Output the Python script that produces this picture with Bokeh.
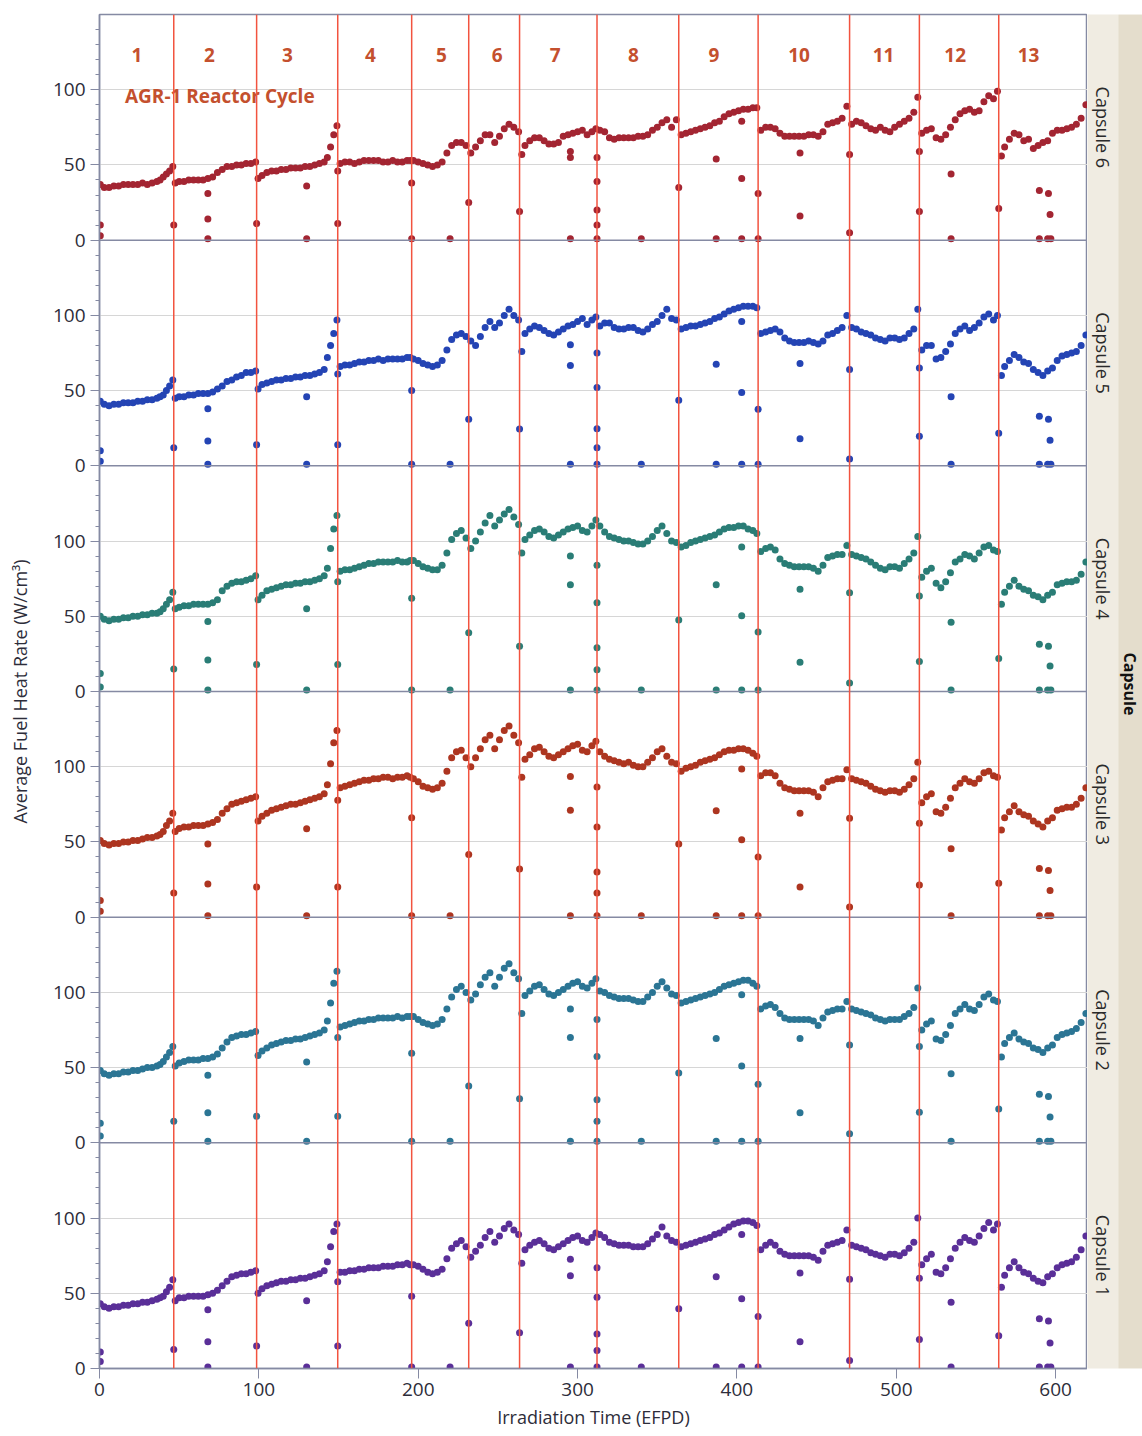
import math
from bokeh.plotting import figure
from bokeh.models import Range1d, FixedTicker, Span, ColumnDataSource, CustomJSTickFormatter
from bokeh.layouts import row
from bokeh.embed import file_html
from bokeh.resources import INLINE
from bokeh.core.properties import value

# ---------------- data ----------------
CYCLE_BOUNDS = [46.6, 98.6, 149.5, 195.9, 231.7, 263.6, 312.2, 363.5, 413.3, 470.7, 514.5, 564.3]
CYCLE_NAMES = [str(i) for i in range(1, 14)]
CYCLE_LABEL_X = [23.5, 69, 118, 170, 214.5, 249.5, 286, 335, 385.5, 439, 492, 537, 583]
X_TICKS = [0, 100, 200, 300, 400, 500, 600]
CAPSULES = ["Capsule 1", "Capsule 2", "Capsule 3", "Capsule 4", "Capsule 5", "Capsule 6"]

DAYS = [
    [0.5, 3, 6, 9, 12, 15, 18, 21, 24, 27, 30, 33, 36, 38, 40, 42, 44, 46],
    [47.5, 50, 53, 56, 59, 62, 65, 68, 71, 74, 77, 80, 83, 86, 89, 92, 95, 98],
    [99.5, 102, 105, 108, 111, 114, 117, 120, 123, 126, 129, 132, 135, 138, 141, 143, 145, 147, 149],
    [151, 154, 157, 160, 163, 166, 169, 172, 175, 178, 181, 184, 187, 190, 193, 195],
    [197, 200, 203, 206, 209, 212, 215, 218, 221, 224, 227, 230],
    [233, 236, 239, 242, 245, 248, 251, 254, 257, 260, 263],
    [265, 267, 270, 273, 276, 279, 282, 285, 288, 291, 294, 297, 300, 303, 306, 309, 311.5],
    [314, 317, 320, 323, 326, 329, 332, 335, 338, 341, 344, 347, 350, 353, 356, 359, 362],
    [365, 368, 371, 374, 377, 380, 383, 386, 389, 392, 395, 398, 401, 404, 407, 410, 412.5],
    [415, 418, 421, 424, 427, 430, 433, 436, 439, 442, 445, 448, 451, 454, 457, 460, 463, 466, 469],
    [472, 475, 478, 481, 484, 487, 490, 493, 496, 499, 502, 505, 508, 511, 513.5],
    [516, 519, 522, 525, 528, 531, 534, 537, 540, 543, 546, 549, 552, 555, 558, 561, 563.5],
    [566, 568, 571, 574, 577, 580, 583, 586, 589, 592, 595, 598, 601, 604, 607, 610, 613, 616, 619],
]

CAP6 = [
    [37, 35, 35, 36, 36, 37, 37, 37, 37, 38, 37, 38, 39, 40, 42, 44, 46, 49],
    [38, 39, 39, 40, 40, 40, 40, 41, 42, 45, 47, 49, 49, 50, 50, 51, 51, 52],
    [41, 43, 45, 46, 46, 47, 47, 48, 48, 48, 49, 49, 50, 51, 52, 55, 62, 70, 76],
    [51, 52, 52, 51, 52, 53, 53, 53, 53, 52, 52, 53, 52, 52, 53, 53],
    [53, 52, 51, 50, 49, 50, 52, 58, 63, 65, 65, 63],
    [58, 62, 66, 70, 70, 65, 69, 74, 77, 75, 72],
    [57, 63, 66, 68, 68, 66, 64, 64, 65, 69, 70, 71, 72, 73, 70, 72, 74],
    [73, 72, 68, 67, 68, 68, 68, 68, 69, 69, 70, 73, 75, 78, 80, 75, 80],
    [70, 71, 72, 73, 74, 75, 76, 78, 79, 82, 84, 85, 86, 87, 87, 88, 88],
    [73, 75, 75, 74, 71, 69, 69, 69, 69, 69, 70, 70, 69, 72, 77, 78, 79, 81, 89],
    [77, 79, 78, 76, 74, 73, 75, 73, 72, 75, 77, 79, 81, 85, 95],
    [71, 73, 74, 68, 67, 70, 75, 80, 84, 86, 87, 85, 86, 92, 96, 94, 99],
    [56, 62, 67, 71, 70, 66, 67, 61, 63, 65, 66, 71, 73, 73, 74, 75, 77, 81, 90],
]
CAP5 = [
    [43, 41, 40, 41, 41, 42, 42, 42, 43, 43, 44, 44, 45, 46, 47, 50, 53, 57],
    [45, 46, 46, 47, 47, 48, 48, 48, 49, 51, 53, 56, 57, 59, 60, 62, 62, 63],
    [51, 54, 55, 56, 57, 57, 58, 58, 59, 59, 60, 60, 61, 62, 64, 72, 80, 88, 97],
    [66, 67, 67, 68, 69, 69, 70, 70, 71, 70, 71, 71, 71, 71, 72, 72],
    [71, 70, 68, 67, 66, 67, 70, 77, 84, 87, 88, 86],
    [83, 80, 86, 92, 96, 92, 95, 100, 104, 100, 97],
    [76, 88, 91, 93, 92, 90, 88, 87, 89, 91, 93, 94, 96, 98, 94, 97, 99],
    [93, 95, 95, 92, 91, 91, 92, 92, 90, 89, 91, 94, 96, 100, 104, 98, 97],
    [91, 92, 93, 93, 94, 95, 96, 98, 99, 101, 103, 104, 105, 106, 106, 106, 105],
    [88, 89, 90, 91, 89, 85, 83, 82, 82, 82, 83, 82, 81, 83, 87, 88, 90, 92, 100],
    [92, 91, 89, 88, 87, 85, 84, 83, 85, 85, 84, 85, 88, 91, 104],
    [77, 80, 80, 71, 72, 76, 81, 88, 91, 93, 90, 92, 95, 99, 101, 97, 100],
    [60, 66, 70, 74, 72, 69, 68, 64, 62, 60, 63, 65, 70, 73, 74, 75, 76, 80, 87],
]
CAP4 = [
    [50, 48, 47, 48, 48, 49, 49, 50, 50, 51, 51, 52, 52, 53, 55, 58, 61, 66],
    [55, 56, 57, 57, 58, 58, 58, 58, 59, 61, 67, 70, 72, 73, 73, 74, 75, 77],
    [61, 64, 67, 68, 69, 70, 71, 71, 72, 72, 73, 73, 74, 75, 77, 82, 95, 108, 117],
    [80, 81, 81, 82, 83, 84, 85, 85, 86, 86, 86, 86, 87, 86, 86, 87],
    [87, 85, 83, 82, 81, 81, 84, 92, 101, 105, 107, 102],
    [95, 100, 106, 112, 117, 110, 114, 118, 121, 116, 111],
    [92, 101, 104, 107, 108, 106, 103, 102, 104, 106, 108, 109, 110, 107, 106, 110, 114],
    [110, 106, 103, 102, 101, 100, 100, 99, 98, 98, 100, 103, 107, 110, 105, 100, 99],
    [96, 97, 99, 100, 101, 102, 103, 104, 106, 108, 109, 109, 110, 110, 108, 107, 105],
    [93, 95, 96, 94, 88, 85, 84, 83, 83, 83, 83, 82, 80, 84, 89, 90, 91, 91, 97],
    [91, 90, 89, 88, 86, 84, 82, 81, 83, 83, 82, 85, 88, 92, 103],
    [76, 80, 82, 72, 69, 73, 79, 86, 88, 91, 90, 88, 92, 96, 97, 94, 93],
    [58, 66, 70, 74, 70, 68, 67, 64, 63, 61, 64, 66, 71, 72, 73, 73, 74, 78, 86],
]
CAP3 = [
    [51, 49, 48, 49, 49, 50, 50, 51, 51, 52, 53, 53, 54, 55, 57, 61, 64, 69],
    [57, 59, 60, 60, 61, 61, 61, 62, 63, 65, 69, 72, 75, 76, 77, 78, 79, 80],
    [64, 67, 69, 71, 72, 73, 74, 75, 75, 76, 77, 78, 79, 80, 82, 88, 102, 116, 124],
    [86, 87, 88, 89, 90, 91, 91, 92, 92, 93, 93, 92, 93, 93, 94, 93],
    [92, 90, 87, 86, 85, 86, 89, 97, 106, 110, 111, 106],
    [100, 106, 112, 118, 121, 112, 118, 124, 127, 121, 116],
    [93, 105, 108, 112, 113, 110, 107, 106, 108, 110, 112, 114, 115, 111, 110, 114, 117],
    [110, 107, 105, 104, 103, 102, 103, 101, 100, 100, 103, 106, 110, 112, 107, 103, 102],
    [97, 99, 100, 101, 103, 104, 105, 106, 108, 110, 111, 111, 112, 112, 111, 109, 107],
    [94, 96, 96, 94, 89, 86, 85, 84, 84, 84, 84, 83, 80, 86, 90, 91, 92, 92, 98],
    [92, 91, 90, 89, 87, 85, 84, 83, 84, 84, 83, 85, 88, 92, 103],
    [76, 80, 82, 70, 69, 73, 79, 86, 89, 92, 90, 89, 92, 96, 97, 94, 93],
    [58, 66, 70, 74, 70, 68, 67, 64, 62, 60, 64, 66, 71, 72, 73, 73, 75, 79, 86],
]
CAP2 = [
    [48, 46, 45, 46, 46, 47, 47, 48, 48, 49, 50, 50, 51, 52, 54, 57, 60, 64],
    [51, 53, 54, 55, 55, 55, 56, 56, 57, 59, 63, 67, 70, 71, 72, 72, 73, 74],
    [58, 61, 63, 65, 66, 67, 68, 68, 69, 69, 70, 71, 72, 73, 75, 81, 93, 106, 114],
    [77, 78, 79, 80, 81, 81, 82, 82, 83, 83, 83, 83, 84, 83, 84, 84],
    [84, 82, 80, 79, 78, 79, 82, 89, 97, 102, 104, 100],
    [95, 99, 105, 110, 113, 104, 110, 116, 119, 113, 109],
    [86, 98, 101, 104, 105, 102, 99, 98, 100, 102, 104, 106, 107, 104, 103, 106, 109],
    [101, 100, 98, 97, 96, 96, 96, 95, 94, 94, 97, 100, 104, 107, 103, 99, 98],
    [93, 94, 95, 96, 97, 98, 99, 100, 102, 104, 105, 106, 107, 108, 108, 106, 104],
    [89, 91, 92, 90, 86, 83, 82, 82, 82, 82, 82, 81, 78, 83, 87, 88, 89, 89, 94],
    [89, 88, 87, 86, 85, 83, 82, 81, 82, 82, 82, 84, 86, 90, 103],
    [75, 79, 81, 69, 68, 72, 78, 86, 89, 92, 89, 88, 92, 97, 99, 95, 94],
    [57, 66, 70, 73, 69, 67, 66, 63, 62, 60, 63, 65, 70, 72, 73, 74, 76, 80, 86],
]
CAP1 = [
    [43, 41, 40, 41, 41, 42, 42, 43, 43, 44, 44, 45, 46, 47, 48, 51, 54, 59],
    [45, 47, 47, 48, 48, 48, 48, 49, 50, 52, 55, 58, 61, 62, 63, 63, 64, 65],
    [50, 53, 55, 56, 57, 58, 58, 59, 59, 60, 60, 61, 62, 63, 65, 71, 81, 91, 96],
    [64, 64, 65, 65, 66, 66, 67, 67, 67, 68, 68, 68, 69, 69, 70, 69],
    [69, 68, 66, 64, 63, 64, 66, 73, 80, 83, 85, 81],
    [74, 78, 82, 87, 91, 84, 88, 93, 96, 92, 89],
    [70, 79, 82, 84, 85, 83, 80, 79, 81, 83, 85, 87, 88, 85, 84, 87, 90],
    [89, 87, 84, 83, 82, 82, 82, 81, 81, 81, 83, 86, 89, 94, 88, 85, 84],
    [81, 82, 83, 84, 85, 86, 87, 89, 90, 92, 94, 96, 97, 98, 98, 97, 95],
    [79, 82, 84, 82, 78, 76, 75, 75, 75, 75, 75, 74, 72, 78, 82, 83, 84, 85, 92],
    [82, 81, 80, 79, 77, 76, 75, 74, 76, 76, 75, 77, 80, 84, 100],
    [69, 73, 76, 64, 63, 67, 73, 80, 84, 87, 85, 84, 88, 93, 97, 92, 96],
    [54, 62, 67, 71, 67, 64, 63, 60, 58, 57, 61, 63, 67, 69, 70, 71, 74, 79, 88],
]

# off-trend points (start-up / shutdown days)
OUT_DAYS = [0.5, 0.5, 46.6, 68, 68, 68, 98.6, 130, 130, 149.5, 149.5, 195.9, 195.9, 220,
            231.7, 263.6, 295.5, 295.5, 295.5, 312.2, 312.2, 312.2, 312.2, 312.2, 340, 363.5,
            387, 387, 403, 403, 403, 413.3, 413.3, 439.6, 439.6, 470.7, 470.7, 514.5, 514.5,
            534.4, 534.4, 564.3, 589.8, 589.8, 595.5, 596.5, 595, 597]
OUT6 = [10, 3, 10, 31, 14, 1, 11, 36, 1, 11, 46, 38, 1, 1, 25, 19, 59, 55, 1, 55, 39, 20, 10, 1,
        1, 35, 54, 1, 41, 1, 79, 31, 1, 58, 16, 57, 5, 59, 19, 44, 1, 21, 33, 1, 31, 17, 1, 1]
OUT5 = [10, 3, 12, 38, 16.5, 1, 14, 46, 1, 14, 61, 50, 1, 1, 31, 24.5, 80.5, 66.7, 1, 75, 52, 24.6,
        12, 1, 1, 43.6, 67.5, 1, 48.8, 1, 96, 37.6, 1, 68, 18, 64, 4.5, 65, 19.7, 46, 1, 21.7, 33,
        1, 31, 17, 1, 1]
OUT4 = [12, 3, 15, 46.5, 21, 1, 18, 55, 1, 18, 73, 62, 1, 1, 39, 30, 90, 71, 1, 84, 59, 29, 14.5,
        1, 1, 47.6, 71, 1, 50.4, 1, 96, 39.5, 1, 68, 19.4, 65.7, 5.7, 63.5, 20, 46, 1, 22, 31.4, 1,
        30, 17, 1, 1]
OUT3 = [11, 4, 16, 48.7, 22, 1, 20, 58.7, 1, 20, 77.7, 66, 1, 1, 41.7, 32, 93.5, 71, 1, 86.5, 60,
        30, 16, 1, 1, 48.7, 70.7, 1, 51.5, 1, 98.5, 40, 1, 69, 20, 65.7, 6.8, 62.4, 21.4, 45.4, 1,
        22.5, 32.3, 1, 31, 17.7, 1, 1]
OUT2 = [13, 4.6, 14.4, 45, 20, 1, 17.7, 53.7, 1, 17.7, 70, 59.6, 1, 1, 37.8, 29.3, 89, 70, 1, 82,
        57.4, 28.6, 14.4, 1, 1, 46.5, 69.4, 1, 51, 1, 98.5, 39, 1, 69.4, 20, 65, 6, 64, 20.3, 46, 1,
        22.5, 32.3, 1, 30.8, 17.2, 1, 1]
OUT1 = [11, 4.6, 12.7, 39, 17.8, 1, 15, 45, 1, 15, 57.7, 48, 1, 1, 30, 23.7, 72.6, 61.6, 1, 67,
        47.4, 23, 12, 1, 1, 39.7, 61, 1, 46.3, 1, 89, 34.6, 1, 63.4, 17.8, 59.4, 5.3, 60, 19.3, 44,
        1, 21.7, 33, 1, 31.6, 17, 1, 1]

SERIES = [CAP1, CAP2, CAP3, CAP4, CAP5, CAP6]
OUTS = [OUT1, OUT2, OUT3, OUT4, OUT5, OUT6]

# ---------------- style ----------------
COLORS = ["#5a2f98", "#2b7594", "#ad3520", "#2a7d76", "#2444b4", "#a32532"]
RED = "#f2533f"
CYC_TXT = "#c4502e"
FRAME = "#858aa3"
GRID = "#d6d6d6"
TXT = "#2d2d3a"
FONT = "Open Sans"
PANEL = 150  # y-units per panel
NP = 6

days_flat = [d for cyc in DAYS for d in cyc]

p = figure(output_backend="svg", toolbar_location=None,
           frame_width=988, frame_height=1354,
           x_range=Range1d(0, 620), y_range=Range1d(0, PANEL * NP),
           min_border_left=99, min_border_right=0, min_border_top=14, min_border_bottom=68,
           background_fill_color="white", border_fill_color="white",
           outline_line_color=FRAME, outline_line_width=1.5)

# one y-range per capsule panel: each capsule's own values, 0..150
p.extra_y_ranges = {f"c{k}": Range1d(start=-PANEL * (k - 1), end=PANEL * NP - PANEL * (k - 1))
                    for k in range(1, NP + 1)}

p.xgrid.visible = False
p.ygrid.ticker = FixedTicker(ticks=[PANEL * i + m for i in range(NP) for m in (50, 100)])
p.ygrid.grid_line_color = GRID
p.ygrid.grid_line_width = 1

# y axis: 0/50/100 repeated for each panel
p.yaxis.ticker = FixedTicker(
    ticks=[PANEL * i + m for i in range(NP) for m in (0, 50, 100)],
    minor_ticks=[PANEL * i + m for i in range(NP)
                 for m in (10, 20, 30, 40, 60, 70, 80, 90, 110, 120, 130, 140)])
p.yaxis.formatter = CustomJSTickFormatter(code="return String(Math.round(tick) % 150);")
p.yaxis.axis_label = "Average Fuel Heat Rate (W/cm³)"
p.yaxis.major_tick_out = 9
p.yaxis.major_tick_in = 0
p.yaxis.minor_tick_out = 4
p.yaxis.minor_tick_in = 0
p.yaxis.major_label_standoff = 5
p.yaxis.axis_label_standoff = 18

p.xaxis.ticker = FixedTicker(ticks=X_TICKS, minor_ticks=[])
p.xaxis.axis_label = "Irradiation Time (EFPD)"
p.xaxis.major_tick_out = 10
p.xaxis.major_tick_in = 0
p.xaxis.minor_tick_out = 0
p.xaxis.minor_tick_in = 0
p.xaxis.major_label_standoff = 4
p.xaxis.axis_label_standoff = 6

for ax in (p.xaxis, p.yaxis):
    ax.axis_line_color = FRAME
    ax.axis_line_width = 1.5
    ax.major_tick_line_color = FRAME
    ax.minor_tick_line_color = FRAME
    ax.major_label_text_font = FONT
    ax.major_label_text_font_size = "19px"
    ax.major_label_text_color = TXT
    ax.axis_label_text_font = FONT
    ax.axis_label_text_font_size = "18px"
    ax.axis_label_text_font_style = "normal"
    ax.axis_label_text_color = TXT

# panel separators
for i in range(1, NP):
    p.add_layout(Span(location=PANEL * i, dimension="width", line_color=FRAME, line_width=1.5))

# data
for k in range(NP):
    vals = [v for cyc in SERIES[k] for v in cyc]
    assert len(vals) == len(days_flat), (k, len(vals), len(days_flat))
    assert len(OUTS[k]) == len(OUT_DAYS), (k, len(OUTS[k]))
    src = ColumnDataSource(dict(x=days_flat + OUT_DAYS, y=vals + OUTS[k]))
    p.scatter(x="x", y="y", source=src, y_range_name=f"c{k + 1}", size=7,
              fill_color=COLORS[k], line_color=None, marker="circle")

# cycle boundaries
for b in CYCLE_BOUNDS:
    p.add_layout(Span(location=b, dimension="height", line_color=RED, line_width=1.5))

# cycle numbers + title in the top panel
p.text(x=CYCLE_LABEL_X, y=[123] * len(CYCLE_NAMES), text=CYCLE_NAMES, y_range_name="c6",
       text_font=value(FONT), text_font_style="bold", text_font_size="19px",
       text_color=CYC_TXT, text_align="center", text_baseline="middle")
p.text(x=[16], y=[96], text=["AGR-1 Reactor Cycle"], y_range_name="c6",
       text_font=value(FONT), text_font_style="bold", text_font_size="19px",
       text_color=CYC_TXT, text_align="left", text_baseline="middle")

# ---------------- right facet strip ----------------
s = figure(output_backend="svg", toolbar_location=None,
           frame_width=55, frame_height=1354,
           x_range=Range1d(0, 55), y_range=Range1d(0, PANEL * NP),
           x_axis_location=None, y_axis_location=None,
           min_border_left=0, min_border_right=0, min_border_top=14, min_border_bottom=68,
           background_fill_color="#f0ece2", border_fill_color="white", outline_line_color=None)
s.grid.visible = False
s.quad(left=[31], right=[55], bottom=[0], top=[PANEL * NP], fill_color="#e4ddcc", line_color=None)
s.text(x=[15] * NP, y=[PANEL * i + PANEL / 2 for i in range(NP)], text=CAPSULES,
       angle=-math.pi / 2, text_font=value(FONT), text_font_size="18px",
       text_color="#2a2a2a", text_align="center", text_baseline="middle")
s.text(x=[42], y=[455], text=["Capsule"], angle=-math.pi / 2,
       text_font=value(FONT), text_font_style="bold", text_font_size="16px",
       text_color="#111111", text_align="center", text_baseline="middle")

layout = row(p, s)
open("out.html", "w").write(file_html(layout, INLINE, title="AGR-1 fuel heat rate"))
